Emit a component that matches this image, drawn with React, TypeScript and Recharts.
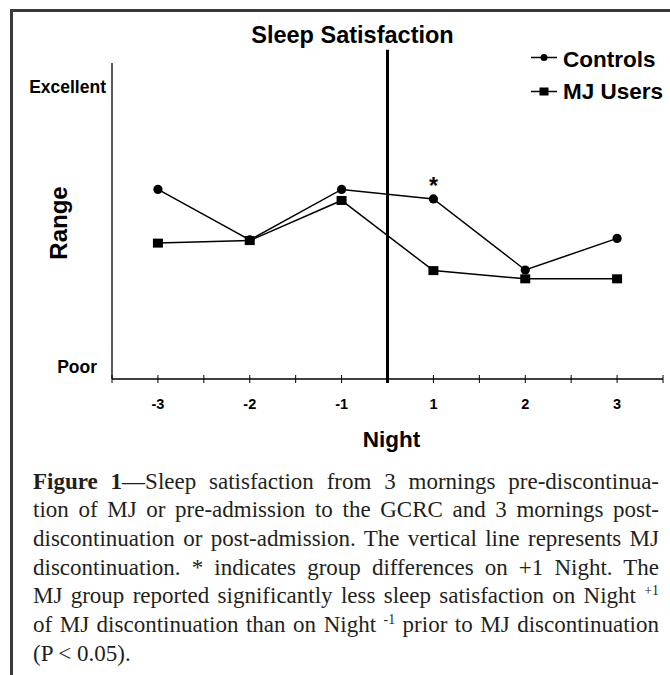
import React from 'react';
import { LineChart, Line, XAxis, YAxis, ReferenceLine, Legend, LabelList } from 'recharts';

// ---- data ----
const nights = ['-3', '-2', '-1', '1', '2', '3'];
const controls = [6.0, 4.4, 6.0, 5.7, 3.45, 4.45];
const mjUsers = [4.3, 4.38, 5.65, 3.43, 3.17, 3.17];
const significance = ['', '', '', '*', '', ''];
const yTickValues = [0.39, 9.23];
const yTickLabels = ['Poor', 'Excellent'];
const seriesNames = ['Controls', 'MJ Users'];
const discontinuationBoundary = 3; // between Night -1 and Night 1

const title = 'Sleep Satisfaction';
const xTitle = 'Night';
const yTitle = 'Range';

const data = nights.map((night, i) => ({
  pos: i + 0.5,
  night,
  controls: controls[i],
  mj: mjUsers[i],
  sig: significance[i],
}));
const xTicks = Array.from({ length: nights.length * 2 + 1 }, (_, k) => k / 2);

const SANS = '"Liberation Sans", Arial, Helvetica, sans-serif';
const SERIF = '"Liberation Serif", "Times New Roman", Times, serif';

const renderXTick = (props: any) => {
  const { x, y, payload } = props;
  const idx = payload.value - 0.5;
  const label = Number.isInteger(idx) ? nights[idx] : null;
  return (
    <g>
      <line x1={x} x2={x} y1={y - 4} y2={y + 4} stroke="#000" strokeWidth={1} />
      {label !== null && (
        <text x={x} y={y + 30} textAnchor="middle" fontFamily={SANS} fontWeight={700} fontSize={14.5} fill="#000">
          {label}
        </text>
      )}
    </g>
  );
};

const renderYTick = (props: any) => {
  const { x, y, payload, index } = props;
  const label = yTickLabels[yTickValues.indexOf(payload.value)] ?? '';
  const gap = label === 'Poor' ? 15 : 6;
  return (
    <text key={index} x={x - gap} y={y + 6} textAnchor="end" fontFamily={SANS} fontWeight={700} fontSize={17.5} fill="#000">
      {label}
    </text>
  );
};

const renderNightLabel = (props: any) => {
  const vb = props.viewBox;
  return (
    <text x={vb.x + vb.width / 2 + 4} y={vb.y + 68} textAnchor="middle" fontFamily={SANS} fontWeight={700} fontSize={22.5} fill="#000">
      {xTitle}
    </text>
  );
};

const renderRangeLabel = (props: any) => {
  const vb = props.viewBox;
  const cx = vb.x - 44;
  const cy = vb.y + vb.height / 2 + 2;
  return (
    <text x={cx} y={cy} transform={`rotate(-90 ${cx} ${cy})`} textAnchor="middle" fontFamily={SANS} fontWeight={700} fontSize={24} fill="#000">
      {yTitle}
    </text>
  );
};

const renderSquare = (props: any) => {
  const { cx, cy, index } = props;
  if (cx == null || cy == null) return <g key={index} />;
  return <rect key={index} x={cx - 5} y={cy - 4.5} width={10} height={9} fill="#000" />;
};

const renderLegend = (props: any) => {
  const payload = props.payload && props.payload.length ? props.payload : seriesNames.map((n) => ({ value: n }));
  return (
    <svg width={142} height={70} style={{ display: 'block' }}>
      {payload.map((entry: any, i: number) => {
        const lineY = 13.5 + i * 34;
        const textY = 22.7 + i * 32.6;
        return (
          <g key={i}>
            <line x1={3} x2={29} y1={lineY} y2={lineY} stroke="#000" strokeWidth={1.5} />
            {i === 0 ? (
              <circle cx={16} cy={lineY} r={3.5} fill="#000" />
            ) : (
              <rect x={11.5} y={lineY - 4} width={9} height={8} fill="#000" />
            )}
            <text x={35} y={textY} fontFamily={SANS} fontWeight={700} fontSize={22.5} fill="#000">
              {entry.value}
            </text>
          </g>
        );
      })}
    </svg>
  );
};

const sup = (s: string) => (
  <span style={{ fontSize: '0.6em', verticalAlign: '0.6em', lineHeight: 0 }}>{s}</span>
);

const lineStyle: React.CSSProperties = {
  textAlign: 'justify',
  textAlignLast: 'justify',
  whiteSpace: 'nowrap',
  height: '28.7px',
};

export default function App() {
  return (
    <div style={{ position: 'absolute', left: 0, top: 0, width: 670, height: 675, background: '#fff', overflow: 'hidden' }}>
      <LineChart width={670} height={675} data={data} margin={{ top: 63, right: 7, bottom: 266, left: 111 }}>
        <XAxis
          dataKey="pos"
          type="number"
          domain={[0, 6]}
          ticks={xTicks}
          interval={0}
          tickSize={0}
          tickMargin={0}
          height={30}
          axisLine={{ stroke: '#000', strokeWidth: 1.3 }}
          tickLine={false}
          tick={renderXTick}
          label={renderNightLabel}
        />
        <YAxis
          type="number"
          domain={[0, 10]}
          ticks={yTickValues}
          interval={0}
          width={1}
          tickSize={0}
          tickMargin={0}
          axisLine={{ stroke: '#000', strokeWidth: 1.3 }}
          tickLine={false}
          tick={renderYTick}
          label={renderRangeLabel}
        />
        <ReferenceLine
          segment={[
            { x: discontinuationBoundary, y: -0.13 },
            { x: discontinuationBoundary, y: 10.42 },
          ]}
          stroke="#000"
          strokeWidth={3}
          ifOverflow="visible"
        />
        <Line
          dataKey="controls"
          name={seriesNames[0]}
          stroke="#000"
          strokeWidth={1.5}
          dot={{ r: 4.6, fill: '#000', stroke: 'none' }}
          isAnimationActive={false}
        >
          <LabelList
            dataKey="sig"
            position="top"
            offset={5}
            style={{ fontFamily: SANS, fontWeight: 700, fontSize: 23, fill: '#000' }}
          />
        </Line>
        <Line
          dataKey="mj"
          name={seriesNames[1]}
          stroke="#000"
          strokeWidth={1.5}
          dot={renderSquare}
          isAnimationActive={false}
        />
        <Legend
          layout="horizontal"
          verticalAlign="middle"
          align="center"
          content={renderLegend}
          wrapperStyle={{ top: 44, left: 528, width: 142, height: 70 }}
        />
      </LineChart>

      <svg width={670} height={675} style={{ position: 'absolute', left: 0, top: 0, pointerEvents: 'none' }}>
        <line x1={10} x2={670} y1={10.5} y2={10.5} stroke="#3a3a3a" strokeWidth={3} />
        <line x1={11.5} x2={11.5} y1={9} y2={675} stroke="#3a3a3a" strokeWidth={3} />
        <text x={352.5} y={43} textAnchor="middle" fontFamily={SANS} fontWeight={700} fontSize={23.5} fill="#000">
          {title}
        </text>
      </svg>

      <div
        style={{
          position: 'absolute',
          left: 33,
          top: 467.5,
          width: 626,
          fontFamily: SERIF,
          fontSize: 23,
          lineHeight: '28.7px',
          color: '#231f20',
        }}
      >
        <div style={lineStyle}>
          <b>Figure 1</b>—Sleep satisfaction from 3 mornings pre-discontinua-
        </div>
        <div style={lineStyle}>tion of MJ or pre-admission to the GCRC and 3 mornings post-</div>
        <div style={lineStyle}>discontinuation or post-admission. The vertical line represents MJ</div>
        <div style={lineStyle}>discontinuation. * indicates group differences on +1 Night. The</div>
        <div style={lineStyle}>
          MJ group reported significantly less sleep satisfaction on Night {sup('+1')}
        </div>
        <div style={lineStyle}>
          of MJ discontinuation than on Night {sup('-1')} prior to MJ discontinuation
        </div>
        <div style={{ ...lineStyle, textAlignLast: 'left' }}>(P &lt; 0.05).</div>
      </div>
    </div>
  );
}
